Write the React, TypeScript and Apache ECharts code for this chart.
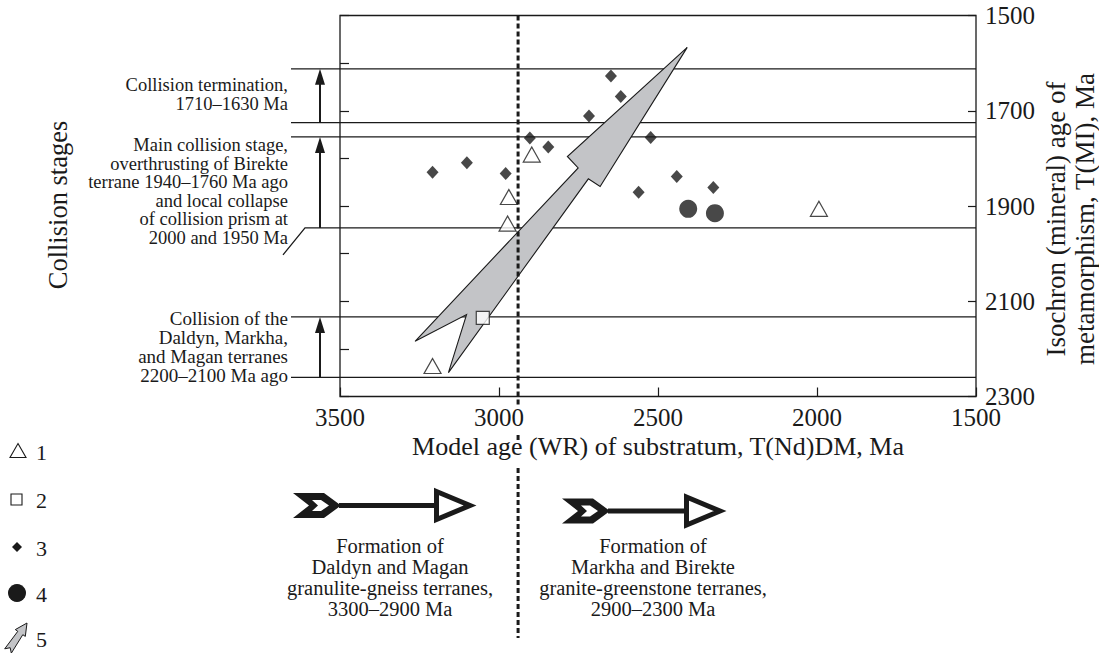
import { useEffect, useRef } from "react";
import * as echarts from "echarts";

const FONT = "Liberation Serif, Times New Roman, serif";
const INK = "#1a1a1a";

// Samples: model age of substratum T(Nd)DM (x) vs isochron age of metamorphism T(MI) (y), Ma
const triangleAgeNd = [2897, 2969, 2973, 3209, 1994];
const triangleAgeMI = [1792, 1881, 1937, 2236, 1906];
const squareAgeNd = [3051];
const squareAgeMI = [2135];
const diamondAgeNd = [3209, 3101, 2979, 2903, 2845, 2717, 2648, 2617, 2523, 2561, 2441, 2326];
const diamondAgeMI = [1829, 1809, 1832, 1757, 1776, 1711, 1627, 1670, 1756, 1871, 1838, 1861];
const circleAgeNd = [2405, 2321];
const circleAgeMI = [1906, 1915];

// Outline of the trend arrow (5), vertices in axis units
const trendAgeNd = [2408, 2682, 2719, 3159, 3102, 3264, 2751, 2785];
const trendAgeMI = [1567, 1859, 1843, 2250, 2128, 2184, 1820, 1796];

// Collision stage boundaries, Ma, and the stage arrows (from older bound to younger bound)
const stageBounds = [1612, 1725, 1755, 1946, 2133, 2260];
const stageSpans = [
  [1725, 1612],
  [1946, 1755],
  [2260, 2133],
];
const dividerAge = 2940;

const xMin = 1500;
const xMax = 3500;
const xStep = 500;
const yMin = 1500;
const yMax = 2300;
const yLabelStep = 200;
const yMinorStep = 100;

const stageNotes = [
  ["Collision termination,", "1710\u20131630 Ma"],
  [
    "Main collision stage,",
    "overthrusting of Birekte",
    "terrane 1940\u20131760 Ma ago",
    "and local collapse",
    "of collision prism at",
    "2000 and 1950 Ma",
  ],
  ["Collision of the", "Daldyn, Markha,", "and Magan terranes", "2200\u20132100 Ma ago"],
];
const formationNotes = [
  ["Formation of", "Daldyn and Magan", "granulite-gneiss terranes,", "3300\u20132900 Ma"],
  ["Formation of", "Markha and Birekte", "granite-greenstone terranes,", "2900\u20132300 Ma"],
];
const legendLabels = ["1", "2", "3", "4", "5"];
const xAxisTitle = "Model age (WR) of substratum, T(Nd)DM, Ma";
const yAxisTitle = ["Isochron (mineral) age of", "metamorphism, T(MI), Ma"];
const leftTitle = "Collision stages";

const pairs = (xs: number[], ys: number[]) => xs.map((x, i) => [x, ys[i]]);

const hollow = { color: "#ffffff", borderColor: INK, borderWidth: 1.2 };

function text(
  t: string,
  x: number,
  y: number,
  size: number,
  align: string,
  vAlign: string,
  extra: any = {}
) {
  const { style, ...rest } = extra;
  return {
    type: "text",
    x,
    y,
    z: 20,
    silent: true,
    ...rest,
    style: {
      text: t,
      font: `${size}px ${FONT}`,
      fill: INK,
      align,
      verticalAlign: vAlign,
      ...(style || {}),
    },
  };
}

function formationArrow(x0: number, x1: number, y: number) {
  return [
    {
      type: "polygon",
      z: 20,
      shape: {
        points: [
          [x0, y - 12.5],
          [x0 + 31, y - 12.5],
          [x0 + 48, y],
          [x0 + 31, y + 12.5],
          [x0, y + 12.5],
          [x0 + 16, y],
        ],
      },
      style: { fill: INK },
    },
    {
      type: "polygon",
      z: 21,
      shape: {
        points: [
          [x0 + 19, y - 5.5],
          [x0 + 28, y - 5.5],
          [x0 + 36, y],
          [x0 + 28, y + 5.5],
          [x0 + 19, y + 5.5],
          [x0 + 25, y],
        ],
      },
      style: { fill: "#ffffff" },
    },
    {
      type: "line",
      z: 20,
      shape: { x1: x0 + 46, y1: y, x2: x1 - 40, y2: y },
      style: { stroke: INK, lineWidth: 5 },
    },
    {
      type: "polygon",
      z: 21,
      shape: {
        points: [
          [x1 - 40.5, y - 14],
          [x1 - 7, y],
          [x1 - 40.5, y + 14],
        ],
      },
      style: { fill: "#ffffff", stroke: INK, lineWidth: 5, lineJoin: "miter" },
    },
  ];
}

export default function App() {
  const ref = useRef<HTMLDivElement>(null);

  useEffect(() => {
    const el = ref.current;
    if (!el) return;
    const chart = echarts.init(el, null, { renderer: "svg" });

    const tickStyle = { color: INK, width: 1.2 };
    const plain = (v: number) => String(v);

    chart.setOption({
      animation: false,
      textStyle: { fontFamily: FONT, color: INK },
      grid: {
        left: 340,
        top: 15.5,
        width: 636,
        height: 381,
        show: true,
        borderColor: INK,
        borderWidth: 1.3,
        backgroundColor: "transparent",
      },
      xAxis: {
        type: "value",
        min: xMin,
        max: xMax,
        interval: xStep,
        inverse: true,
        axisLine: { show: false },
        axisTick: { show: true, inside: true, length: 9, lineStyle: tickStyle },
        axisLabel: { fontSize: 25, margin: 8, color: INK, fontFamily: FONT, formatter: plain },
        splitLine: { show: false },
      },
      yAxis: [
        {
          type: "value",
          min: yMin,
          max: yMax,
          interval: yLabelStep,
          inverse: true,
          position: "right",
          axisLine: { show: false },
          axisTick: { show: true, inside: true, length: 8, lineStyle: tickStyle },
          axisLabel: { fontSize: 25, margin: 9, color: INK, fontFamily: FONT, formatter: plain },
          splitLine: { show: false },
        },
        {
          type: "value",
          min: yMin,
          max: yMax,
          interval: yMinorStep,
          inverse: true,
          position: "left",
          axisLine: { show: false },
          axisTick: { show: true, inside: true, length: 9, lineStyle: tickStyle },
          axisLabel: { show: false },
          splitLine: { show: false },
        },
      ],
      series: [
        {
          type: "custom",
          name: "5",
          silent: true,
          z: 3,
          clip: false,
          data: [[trendAgeNd[0], trendAgeMI[0]]],
          renderItem: (_params: any, api: any) => ({
            type: "polygon",
            shape: { points: trendAgeNd.map((x, i) => api.coord([x, trendAgeMI[i]])) },
            style: { fill: "#c3c4c7", stroke: INK, lineWidth: 1.1 },
          }),
        },
        {
          type: "scatter",
          name: "3",
          silent: true,
          z: 5,
          symbol: "diamond",
          symbolSize: [12, 13],
          itemStyle: { color: INK },
          data: pairs(diamondAgeNd, diamondAgeMI),
        },
        {
          type: "scatter",
          name: "4",
          silent: true,
          z: 5,
          symbol: "circle",
          symbolSize: 18,
          itemStyle: { color: INK },
          data: pairs(circleAgeNd, circleAgeMI),
        },
        {
          type: "scatter",
          name: "1",
          silent: true,
          z: 6,
          symbol: "triangle",
          symbolSize: [17, 15],
          itemStyle: hollow,
          data: pairs(triangleAgeNd, triangleAgeMI),
        },
        {
          type: "scatter",
          name: "2",
          silent: true,
          z: 6,
          symbol: "rect",
          symbolSize: 13,
          itemStyle: hollow,
          data: pairs(squareAgeNd, squareAgeMI),
        },
      ],
    });

    const X = (v: number) => chart.convertToPixel({ xAxisIndex: 0 }, v) as number;
    const Y = (v: number) => chart.convertToPixel({ yAxisIndex: 0 }, v) as number;
    const right = X(xMin);
    const top = Y(yMin);
    const bottom = Y(yMax);
    const elements: any[] = [];

    // stage boundaries, extended out to the notes on the left
    stageBounds.forEach((v, i) => {
      const y = Y(v);
      if (i === 3) {
        elements.push({
          type: "polyline",
          z: 1,
          shape: { points: [[283, y + 27], [305, y], [right, y]] },
          style: { stroke: INK, lineWidth: 1.3, fill: null },
        });
      } else {
        elements.push({
          type: "line",
          z: 1,
          shape: { x1: 291, y1: y, x2: right, y2: y },
          style: { stroke: INK, lineWidth: 1.3 },
        });
      }
    });

    // stage arrows
    stageSpans.forEach(([from, to]) => {
      const y0 = Y(from);
      const y1 = Y(to);
      elements.push({
        type: "line",
        z: 2,
        shape: { x1: 320, y1: y0, x2: 320, y2: y1 + 12 },
        style: { stroke: INK, lineWidth: 2 },
      });
      elements.push({
        type: "polygon",
        z: 2,
        shape: { points: [[320, y1], [315, y1 + 16], [325, y1 + 16]] },
        style: { fill: INK },
      });
    });

    // divider between the two formation epochs
    const dx = X(dividerAge);
    [
      [top, 405],
      [435, 443],
      [468, 638],
    ].forEach(([a, b]) =>
      elements.push({
        type: "line",
        z: 10,
        shape: { x1: dx, y1: a, x2: dx, y2: b },
        style: { stroke: INK, lineWidth: 3, lineDash: [5, 3] },
      })
    );

    // stage notes, one multi-line block each
    const noteFirst = [85, 145, 318];
    const noteSteps = [18.5, 18.6, 19.3];
    const noteSizes = [18.5, 18.5, 19];
    stageNotes.forEach((lines, k) =>
      elements.push(
        text(lines.join("\n"), 288, noteFirst[k] - noteSteps[k] / 2, noteSizes[k], "right", "top", {
          style: { lineHeight: noteSteps[k] },
        })
      )
    );

    // formation arrows and notes
    elements.push(...formationArrow(293, 477, 505.5));
    elements.push(...formationArrow(562, 727, 511));
    const formationCenters = [390, 653];
    formationNotes.forEach((lines, k) =>
      elements.push(
        text(lines.join("\n"), formationCenters[k], 546 - 10.5, 20.5, "center", "top", {
          style: { lineHeight: 21 },
        })
      )
    );

    // axis titles
    elements.push(text(xAxisTitle, (X(xMax) + right) / 2, 446, 26, "center", "middle"));
    const yc = (top + bottom) / 2 + 13;
    elements.push(text(yAxisTitle[0], 1056, yc, 27, "center", "middle", { rotation: Math.PI / 2 }));
    elements.push(text(yAxisTitle[1], 1085, yc, 27, "center", "middle", { rotation: Math.PI / 2 }));
    elements.push(text(leftTitle, 58, 205, 26.5, "center", "middle", { rotation: Math.PI / 2 }));

    // legend
    const ly = [451, 499, 547, 593, 638];
    const lx = 17;
    elements.push({
      type: "polygon",
      z: 20,
      shape: { points: [[lx + 1, ly[0] - 7.5], [lx + 9, ly[0] + 6.5], [lx - 7, ly[0] + 6.5]] },
      style: { fill: "#ffffff", stroke: INK, lineWidth: 1.1 },
    });
    elements.push({
      type: "rect",
      z: 20,
      shape: { x: lx - 6, y: ly[1] - 5, width: 11, height: 11 },
      style: { fill: "#ffffff", stroke: INK, lineWidth: 1.1 },
    });
    elements.push({
      type: "polygon",
      z: 20,
      shape: { points: [[lx, ly[2] - 5], [lx + 5, ly[2]], [lx, ly[2] + 5], [lx - 5, ly[2]]] },
      style: { fill: INK },
    });
    elements.push({
      type: "circle",
      z: 20,
      shape: { cx: lx, cy: ly[3], r: 9 },
      style: { fill: INK },
    });
    elements.push({
      type: "polygon",
      z: 20,
      shape: {
        points: [
          [27, 623],
          [25.3, 636.4],
          [22.8, 634.7],
          [11.3, 653.2],
          [10.2, 647.7],
          [4.7, 648.8],
          [17.8, 631.3],
          [15.3, 629.6],
        ],
      },
      style: { fill: "#c3c4c7", stroke: INK, lineWidth: 1 },
    });
    legendLabels.forEach((t, i) => elements.push(text(t, 36, ly[i] + 1, 22, "left", "middle")));

    chart.setOption({ graphic: { elements } });

    return () => chart.dispose();
  }, []);

  return (
    <div
      ref={ref}
      style={{ position: "fixed", left: 0, top: 0, width: 1099, height: 653, background: "#ffffff" }}
    />
  );
}
